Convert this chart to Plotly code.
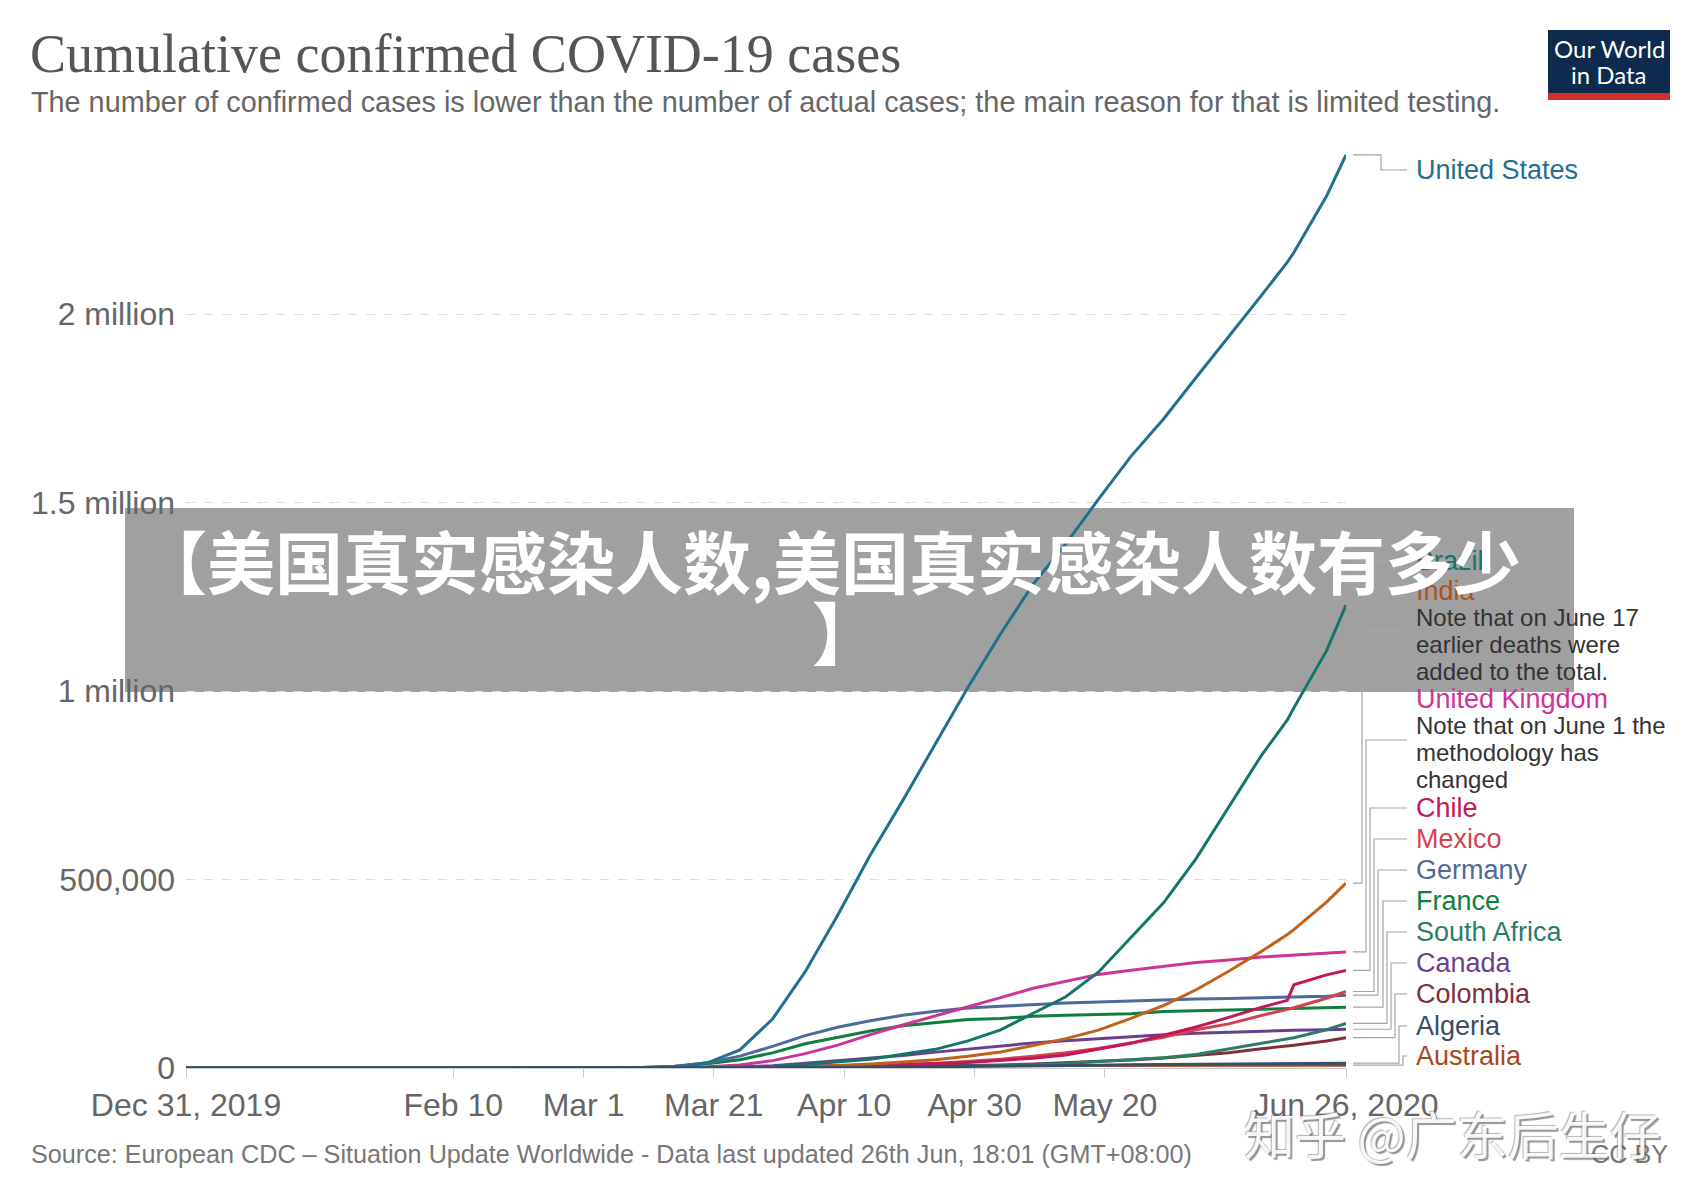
import plotly.graph_objects as go

# ---------------- data ----------------
dates = ["2019-12-31", "2020-02-10", "2020-03-01", "2020-03-05", "2020-03-10", "2020-03-15",
         "2020-03-20", "2020-03-25", "2020-03-30", "2020-04-04", "2020-04-09", "2020-04-14",
         "2020-04-19", "2020-04-24", "2020-04-29", "2020-05-04", "2020-05-09", "2020-05-14",
         "2020-05-19", "2020-05-24", "2020-05-29", "2020-06-03", "2020-06-08", "2020-06-13",
         "2020-06-17", "2020-06-18", "2020-06-23", "2020-06-26"]

united_states = [0, 11, 75, 148, 647, 2726, 13677, 48000, 130000, 255000, 405000, 565000, 710000, 860000,
                 1010000, 1152006, 1283929, 1390406, 1508308, 1622670, 1721750, 1831821, 1938931,
                 2048986, 2137731, 2163290, 2312302, 2422312]
brazil = [0, 0, 2, 8, 30, 121, 621, 2201, 4256, 9056, 15927, 23430, 36599, 49492, 71886, 101147, 145328,
          188974, 254220, 347398, 438238, 555383, 691758, 828810, 923189, 955377, 1106470, 1228114]
india = [0, 3, 3, 30, 56, 110, 195, 606, 1071, 2902, 5734, 10363, 15712, 21700, 31332, 42533, 59662, 78003,
         100328, 131868, 165799, 207615, 256611, 308993, 354065, 366946, 440215, 490401]
united_kingdom = [0, 8, 23, 85, 319, 1144, 3269, 8077, 19522, 38168, 60733, 88621, 114217, 138078, 161145,
                  186599, 211364, 229705, 248293, 259559, 269127, 279856, 286194, 294375, 298136, 299251,
                  305289, 307980]
chile = [0, 0, 0, 0, 13, 75, 342, 922, 2139, 3737, 5546, 7525, 9730, 11812, 14365, 19663, 25972, 34381,
         49579, 65393, 86943, 108686, 134150, 160846, 179436, 220628, 246963, 259064]
mexico = [0, 0, 0, 5, 7, 41, 164, 405, 1094, 1688, 3181, 5014, 7497, 11633, 16752, 23471, 31522, 40186,
          51633, 65856, 81400, 101238, 117103, 139196, 154863, 159793, 185122, 202951]
germany = [0, 16, 117, 482, 1139, 4838, 13957, 31554, 57298, 85778, 108202, 125098, 139897, 150383, 159119,
           163860, 168551, 172239, 175210, 178281, 180458, 182764, 184472, 186269, 187184, 187764, 190359,
           193243]
france = [0, 11, 100, 285, 1412, 4469, 10995, 22025, 40174, 64338, 82048, 98076, 111821, 120804, 128442,
          131287, 137150, 140227, 142411, 144163, 149668, 151753, 154188, 156287, 157716, 158174, 160093,
          161348]
south_africa = [0, 0, 0, 1, 7, 51, 150, 709, 1280, 1505, 1845, 2415, 3034, 4220, 5350, 6783, 9420, 12074,
                17200, 22583, 27403, 35812, 50879, 65736, 76334, 80412, 101590, 118375]
canada = [0, 7, 24, 33, 93, 244, 846, 2792, 6255, 12375, 19290, 26163, 33383, 42110, 50026, 57926, 66434,
          72278, 78072, 83621, 88512, 92410, 95269, 97943, 99467, 99853, 101637, 102794]
colombia = [0, 0, 0, 0, 1, 34, 128, 470, 702, 1267, 2054, 2979, 3792, 4881, 6211, 7973, 10495, 13610, 16935,
            21175, 26688, 33354, 40719, 50939, 57046, 60217, 71367, 80599]
algeria = [0, 0, 1, 12, 20, 48, 90, 264, 511, 1171, 1666, 2070, 2534, 3007, 3848, 4474, 5558, 6442, 7377,
           8306, 8997, 9626, 10265, 10919, 11385, 11504, 12248, 12685]
australia = [0, 15, 26, 52, 100, 249, 709, 2364, 4093, 5548, 6052, 6400, 6547, 6667, 6744, 6825, 6914, 6989,
             7068, 7114, 7150, 7221, 7265, 7290, 7370, 7391, 7474, 7595]

countries = ["United States", "Brazil", "India", "United Kingdom", "Chile", "Mexico", "Germany", "France",
             "South Africa", "Canada", "Colombia", "Algeria", "Australia"]
series = [united_states, brazil, india, united_kingdom, chile, mexico, germany, france, south_africa,
          canada, colombia, algeria, australia]

x_tick_vals = ["2019-12-31", "2020-02-10", "2020-03-01", "2020-03-21", "2020-04-10", "2020-04-30",
               "2020-05-20", "2020-06-26"]
x_tick_text = ["Dec 31, 2019", "Feb 10", "Mar 1", "Mar 21", "Apr 10", "Apr 30", "May 20", "Jun 26, 2020"]
y_tick_vals = [0, 500000, 1000000, 1500000, 2000000]
y_tick_text = ["0", "500,000", "1 million", "1.5 million", "2 million"]

# ---------------- styles / layout ----------------
colors = {
    "United States": "#22708f", "Brazil": "#16756b", "India": "#c0621e", "United Kingdom": "#cc3497",
    "Chile": "#c2185b", "Mexico": "#d2424e", "Germany": "#4d6a99", "France": "#0f7e3e",
    "South Africa": "#2b7c68", "Canada": "#6b3f8f", "Colombia": "#80303a", "Algeria": "#384d66",
    "Australia": "#a8491a",
}
label_colors = dict(colors)
label_colors["India"] = "#a9561f"

OFF = 8                      # page body margin of the html page
W, H = 1700 - 2 * OFF, 1200 - 2 * OFF
# plot area in page pixels
PL, PR, PT, PB = 186, 1346, 152, 1068
YMAX = 2430000

def px_x(px):
    return (px - PL) / (PR - PL)

def px_y(py):
    return (PB - py) / (PB - PT)

def data_y(py):
    return YMAX * (PB - py) / (PB - PT)

# label pixel y, connector pixel y (label side), elbow pixel x
label_layout = {
    "United States": (170, 170, 1381),
    "Brazil": (561, 561, 1358),
    "India": (591, 631, 1362),
    "United Kingdom": (699, 740, 1366),
    "Chile": (808, 808, 1370),
    "Mexico": (839, 839, 1374),
    "Germany": (870, 870, 1378),
    "France": (901, 901, 1383),
    "South Africa": (932, 932, 1387),
    "Canada": (963, 963, 1391),
    "Colombia": (994, 994, 1395),
    "Algeria": (1026, 1026, 1399),
    "Australia": (1056, 1056, 1403),
}
notes = [
    (["Note that on June 17", "earlier deaths were", "added to the total."], [617, 644, 671]),
    (["Note that on June 1 the", "methodology has", "changed"], [725, 752, 780]),
]
LABEL_X = 1414

FONT = "Liberation Sans"

fig = go.Figure()
draw_order = [c for c in reversed(countries) if c != "Algeria"] + ["Algeria"]
for name in draw_order:
    vals = series[countries.index(name)]
    fig.add_trace(go.Scatter(x=dates, y=vals, mode="lines", name=name,
                             line=dict(color=colors[name], width=3), showlegend=False))

shapes = []
annotations = []

# banner box (below the traces)
shapes.append(dict(type="rect", xref="paper", yref="paper", layer="below",
                   x0=px_x(125), x1=px_x(1574), y0=px_y(692), y1=px_y(508),
                   fillcolor="#a0a0a0", line=dict(width=0)))

# logo
shapes.append(dict(type="rect", xref="paper", yref="paper", x0=px_x(1548), x1=px_x(1670),
                   y0=px_y(93), y1=px_y(30), fillcolor="#0e2a4f", line=dict(width=0)))
shapes.append(dict(type="rect", xref="paper", yref="paper", x0=px_x(1548), x1=px_x(1670),
                   y0=px_y(100), y1=px_y(93), fillcolor="#d42f27", line=dict(width=0)))
annotations.append(dict(text="Our World", xref="paper", yref="paper", x=px_x(1609), y=px_y(49),
                        showarrow=False, xanchor="center", yanchor="middle",
                        font=dict(family="Lato", size=24, color="white")))
annotations.append(dict(text="in Data", xref="paper", yref="paper", x=px_x(1609), y=px_y(75),
                        showarrow=False, xanchor="center", yanchor="middle",
                        font=dict(family="Lato", size=24, color="white")))

# connectors and labels
for name, vals in zip(countries, series):
    ly, cy, ex = label_layout[name]
    v_end = vals[-1]
    path = (f"M {px_x(1353)},{v_end} L {px_x(ex)},{v_end} L {px_x(ex)},{data_y(cy)} "
            f"L {px_x(1407)},{data_y(cy)}")
    shapes.append(dict(type="path", xref="paper", yref="y", path=path,
                       line=dict(color="#a6a6a6", width=1.2)))
    annotations.append(dict(text=name, xref="paper", yref="paper", x=px_x(LABEL_X), y=px_y(ly),
                            showarrow=False, xanchor="left", yanchor="middle",
                            font=dict(family=FONT, size=27, color=label_colors[name])))

for lines, ys in notes:
    for t, yy in zip(lines, ys):
        annotations.append(dict(text=t, xref="paper", yref="paper", x=px_x(LABEL_X), y=px_y(yy),
                                showarrow=False, xanchor="left", yanchor="middle",
                                font=dict(family=FONT, size=24, color="#333333")))

# title / subtitle / source
annotations.append(dict(text="Cumulative confirmed COVID-19 cases", xref="paper", yref="paper",
                        x=px_x(28), y=px_y(54), showarrow=False, xanchor="left", yanchor="middle",
                        font=dict(family="Liberation Serif", size=54, color="#555555")))
annotations.append(dict(text="The number of confirmed cases is lower than the number of actual cases; "
                             "the main reason for that is limited testing.",
                        xref="paper", yref="paper", x=px_x(29), y=px_y(102), showarrow=False,
                        xanchor="left", yanchor="middle",
                        font=dict(family=FONT, size=28.8, color="#666666")))
annotations.append(dict(text="Source: European CDC – Situation Update Worldwide - Data last updated "
                             "26th Jun, 18:01 (GMT+08:00)",
                        xref="paper", yref="paper", x=px_x(29), y=px_y(1154), showarrow=False,
                        xanchor="left", yanchor="middle",
                        font=dict(family=FONT, size=25.2, color="#777777")))
annotations.append(dict(text="CC BY", xref="paper", yref="paper", x=px_x(1670), y=px_y(1154),
                        showarrow=False, xanchor="right", yanchor="middle",
                        font=dict(family=FONT, size=25.2, color="#777777")))

# banner text
banner_font = dict(family="Noto Sans CJK SC", size=68, color="white", weight="bold")
annotations.append(dict(text="【美国真实感染人数,美国真实感染人数有多少", xref="paper", yref="paper",
                        x=px_x(830), y=px_y(559), showarrow=False, xanchor="center",
                        yanchor="middle", font=banner_font))
annotations.append(dict(text="】", xref="paper", yref="paper",
                        x=px_x(846), y=px_y(630), showarrow=False, xanchor="center",
                        yanchor="middle", font=banner_font))

# watermark
annotations.append(dict(text="知乎 @广东后生仔", xref="paper", yref="paper",
                        x=px_x(1452), y=px_y(1133), showarrow=False, xanchor="center",
                        yanchor="middle",
                        font=dict(family="Noto Sans CJK SC", size=51, color="rgba(255,255,255,0.92)",
                                  shadow="2px 2px 1px rgba(90,90,90,0.7), -1px -1px 1px rgba(90,90,90,0.5)")))

fig.update_layout(
    width=W, height=H, autosize=False,
    margin=dict(l=PL - OFF, r=W - (PR - OFF), t=PT - OFF, b=H - (PB - OFF), pad=0),
    paper_bgcolor="white", plot_bgcolor="rgba(0,0,0,0)",
    shapes=shapes, annotations=annotations,
    font=dict(family=FONT, color="#666666"),
    xaxis=dict(type="date", range=["2019-12-31", "2020-06-26"], tickvals=x_tick_vals,
               ticktext=x_tick_text, showgrid=False, zeroline=False, showline=True,
               linecolor="#cccccc", linewidth=1, ticks="outside", ticklen=9, tickcolor="#cccccc",
               tickfont=dict(family=FONT, size=32, color="#666666")),
    yaxis=dict(range=[0, YMAX], tickvals=y_tick_vals, ticktext=y_tick_text, showgrid=True,
               gridcolor="#dddddd", griddash="dash", gridwidth=1, zeroline=False, showline=False,
               ticks="", ticklabelstandoff=10,
               tickfont=dict(family=FONT, size=32, color="#666666")),
)

fig.write_html("out.html")
